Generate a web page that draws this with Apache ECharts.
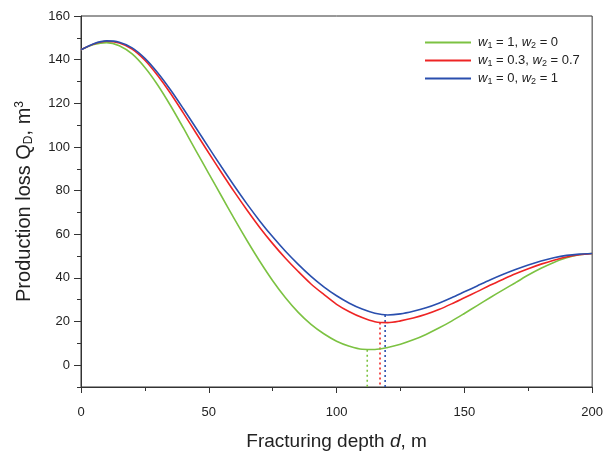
<!DOCTYPE html>
<html>
<head>
<meta charset="utf-8">
<script src="https://cdn.jsdelivr.net/npm/echarts@6/dist/echarts.min.js"></script>
<style>html,body{margin:0;padding:0;background:#fff}#c{width:606px;height:456px}</style>
</head>
<body>
<div id="c"></div>
<script>
const seriesNames = ['g', 'r', 'b'];
const legendLabels = [
  '{i|w}{s|1}{t| = 1, }{i|w}{s|2}{t| = 0}',
  '{i|w}{s|1}{t| = 0.3, }{i|w}{s|2}{t| = 0.7}',
  '{i|w}{s|1}{t| = 0, }{i|w}{s|2}{t| = 1}'
];
const xValues = [0,5,10,15,20,25,30,35,40,45,50,55,60,65,70,75,80,85,90,95,100,105,110,115,120,125,130,135,140,145,150,155,160,165,170,175,180,185,190,195,200];
const yGreen = [144.5,146.9,147.8,146.4,142.6,136.4,128.4,119.0,108.8,98.2,87.8,77.4,67.0,57.0,47.5,38.7,30.9,24.2,18.7,14.4,11.0,8.7,7.3,7.2,8.1,9.6,11.6,14.1,17.0,20.2,23.7,27.3,30.9,34.4,37.8,41.3,44.4,47.1,49.2,50.6,51.2];
const yRed = [144.5,147.2,148.4,147.6,144.8,139.7,132.7,124.6,115.6,106.4,97.2,88.2,79.4,71.0,63.0,55.7,49.0,42.9,37.2,32.4,27.9,24.5,21.8,19.9,19.5,20.3,21.6,23.3,25.5,28.1,30.9,33.7,36.6,39.3,41.9,44.2,46.3,48.1,49.6,50.6,51.2];
const yBlue = [144.5,147.3,148.6,148.0,145.4,140.6,134.0,126.2,117.6,108.7,99.7,90.8,82.1,73.8,66.0,58.8,52.2,46.2,40.7,35.9,31.8,28.4,25.7,23.8,23.0,23.5,24.7,26.3,28.4,30.9,33.6,36.3,39.0,41.5,43.8,45.9,47.7,49.2,50.3,50.9,51.2];
const minX = [112, 117, 119];
const minY = [7.1, 19.6, 23];
const colors = ['#7cc242', '#ee2424', '#2a4fae'];
const yMajor = [0,20,40,60,80,100,120,140,160];
const yMinor = [-10,10,30,50,70,90,110,130,150];

const ys = [yGreen, yRed, yBlue];
const series = [];
for (let k = 0; k < 3; k++) {
  series.push({
    name: seriesNames[k], type: 'line', symbol: 'none', smooth: 0.3,
    data: xValues.map((x, i) => [x, ys[k][i]]),
    lineStyle: { color: colors[k], width: 1.6 }, itemStyle: { color: colors[k] },
    z: 3 + k
  });
}
for (let k = 0; k < 3; k++) {
  series.push({
    name: 'min' + k, type: 'line', symbol: 'none',
    data: [[minX[k], minY[k]], [minX[k], -10]],
    lineStyle: { color: colors[k], width: 1.6, type: [2, 3] },
    z: 2
  });
}
const rich = {
  i: { fontStyle: 'italic', fontSize: 13, color: '#222', fontFamily: 'Liberation Sans' },
  s: { fontSize: 9, color: '#222', verticalAlign: 'bottom', padding: [6, 0, 0, 0], fontFamily: 'Liberation Sans' },
  t: { fontSize: 13, color: '#222', fontFamily: 'Liberation Sans' }
};
const chart = echarts.init(document.getElementById('c'));
chart.setOption({
  animation: false,
  backgroundColor: '#fff',
  textStyle: { fontFamily: 'Liberation Sans' },
  grid: { left: 81, right: 11, top: 16, bottom: 64, show: true, borderColor: '#333', borderWidth: 1 },
  legend: {
    data: seriesNames, orient: 'vertical', left: 420, top: 31, itemWidth: 46, itemHeight: 10, itemGap: 4,
    icon: 'path://M0,4 L46,4 L46,6 L0,6 Z',
    formatter: n => legendLabels[seriesNames.indexOf(n)],
    textStyle: { rich: rich, fontSize: 13, color: '#222', padding: [0, 0, 0, 2] }
  },
  xAxis: {
    type: 'value', min: 0, max: 200, interval: 50,
    axisLine: { show: true, onZero: false, lineStyle: { color: '#333' } },
    axisTick: { show: true, length: 6, lineStyle: { color: '#333' } },
    minorTick: { show: true, splitNumber: 2, length: 4, lineStyle: { color: '#333' } },
    splitLine: { show: false },
    axisLabel: { color: '#222', fontSize: 13, margin: 19 },
    name: '{t|Fracturing depth }{i|d}{t|, m}', nameLocation: 'middle', nameGap: 45,
    nameTextStyle: { rich: {
      t: { fontSize: 19, color: '#222', fontFamily: 'Liberation Sans' },
      i: { fontSize: 19, color: '#222', fontStyle: 'italic', fontFamily: 'Liberation Sans' } } }
  },
  yAxis: [{
    type: 'value', min: -10, max: 160,
    axisLine: { show: true, onZero: false, lineStyle: { color: '#333' } },
    axisTick: { show: true, length: 7, customValues: yMajor, lineStyle: { color: '#333' } },
    splitLine: { show: false },
    axisLabel: { color: '#222', fontSize: 13, margin: 11, customValues: yMajor },
    name: '{t|Production loss Q}{s|D}{t|, m}{p|3}', nameLocation: 'middle', nameGap: 46,
    nameTextStyle: { rich: {
      t: { fontSize: 20, color: '#222', fontFamily: 'Liberation Sans' },
      s: { fontSize: 12, color: '#222', fontFamily: 'Liberation Sans', verticalAlign: 'bottom', padding: [9, 0, 0, 0] },
      p: { fontSize: 12, color: '#222', fontFamily: 'Liberation Sans', verticalAlign: 'top', padding: [0, 0, 9, 0] } } }
  }, {
    type: 'value', min: -10, max: 160, position: 'left',
    axisLine: { show: false, onZero: false },
    axisTick: { show: true, length: 4, customValues: yMinor, lineStyle: { color: '#333' } },
    axisLabel: { show: false }, splitLine: { show: false }
  }],
  series: series
});
</script>
</body>
</html>
